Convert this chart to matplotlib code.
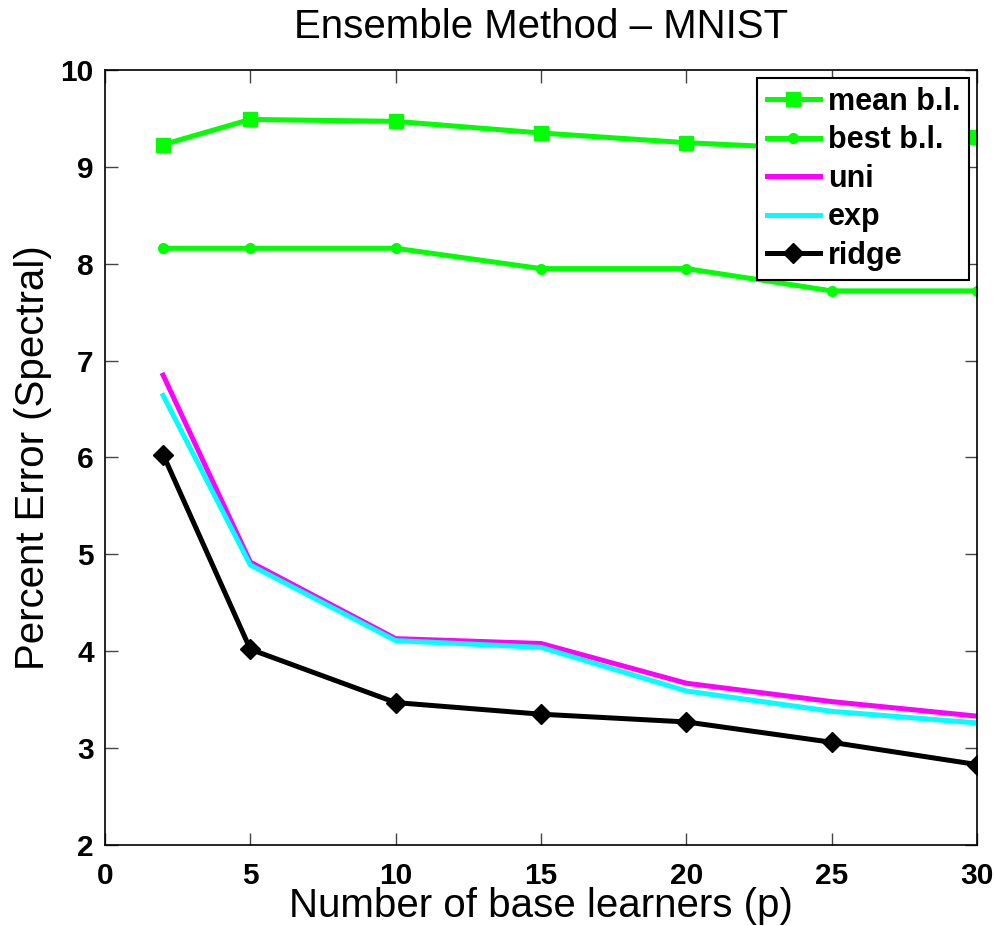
import matplotlib
matplotlib.use('Agg')
import matplotlib.pyplot as plt

plt.rcParams['font.family'] = ['Liberation Sans', 'DejaVu Sans']

p = [2, 5, 10, 15, 20, 25, 30]
mean_bl = [9.23, 9.49, 9.47, 9.35, 9.25, 9.18, 9.31]
best_bl = [8.16, 8.16, 8.16, 7.95, 7.95, 7.72, 7.72]
uni = [6.85, 4.92, 4.13, 4.08, 3.67, 3.48, 3.33]
exp_ = [6.64, 4.89, 4.11, 4.04, 3.59, 3.38, 3.26]
ridge = [6.03, 4.02, 3.47, 3.35, 3.27, 3.06, 2.83]

fig = plt.figure(figsize=(9.96, 9.26), dpi=100)
ax = fig.add_axes([0.1054, 0.0875, 0.8755, 0.8369])

ax.plot(p, mean_bl, color='#00ff00', lw=3.6, marker='s', ms=10, label='mean b.l.')
ax.plot(p, best_bl, color='#00ff00', lw=3.6, marker='o', ms=7, label='best b.l.')
ax.plot(p, uni, color='#ff00ff', lw=3.6, label='uni')
ax.plot(p, exp_, color='#00ffff', lw=3.6, label='exp')
ax.plot(p, ridge, color='black', lw=3.6, marker='D', ms=10, label='ridge')

ax.set_xlim(0, 30)
ax.set_ylim(2, 10)
ax.set_xticks(range(0, 31, 5))
ax.set_yticks(range(2, 11))
ax.tick_params(direction='in', length=9, width=1, color='#444444',
               top=True, right=True, labelsize=21.5)
ax.tick_params(axis='x', pad=12)
ax.tick_params(axis='y', pad=8)
for t in ax.get_xticklabels() + ax.get_yticklabels():
    t.set_fontweight('bold')
for s in ax.spines.values():
    s.set_linewidth(1.2)

ax.set_xlabel('Number of base learners (p)', fontsize=29, labelpad=-2)
ax.set_ylabel('Percent Error (Spectral)', fontsize=29, labelpad=6)
ax.set_title('Ensemble Method \u2013 MNIST', fontsize=29, pad=23)

leg = ax.legend(loc='upper right', fancybox=False, framealpha=1,
                edgecolor='black', prop={'weight': 'bold', 'size': 22},
                handlelength=1.75, labelspacing=0.28, borderpad=0.3,
                handletextpad=0.25, borderaxespad=0.25)
leg.get_frame().set_linewidth(1.5)

fig.savefig('out.png', dpi=100)
